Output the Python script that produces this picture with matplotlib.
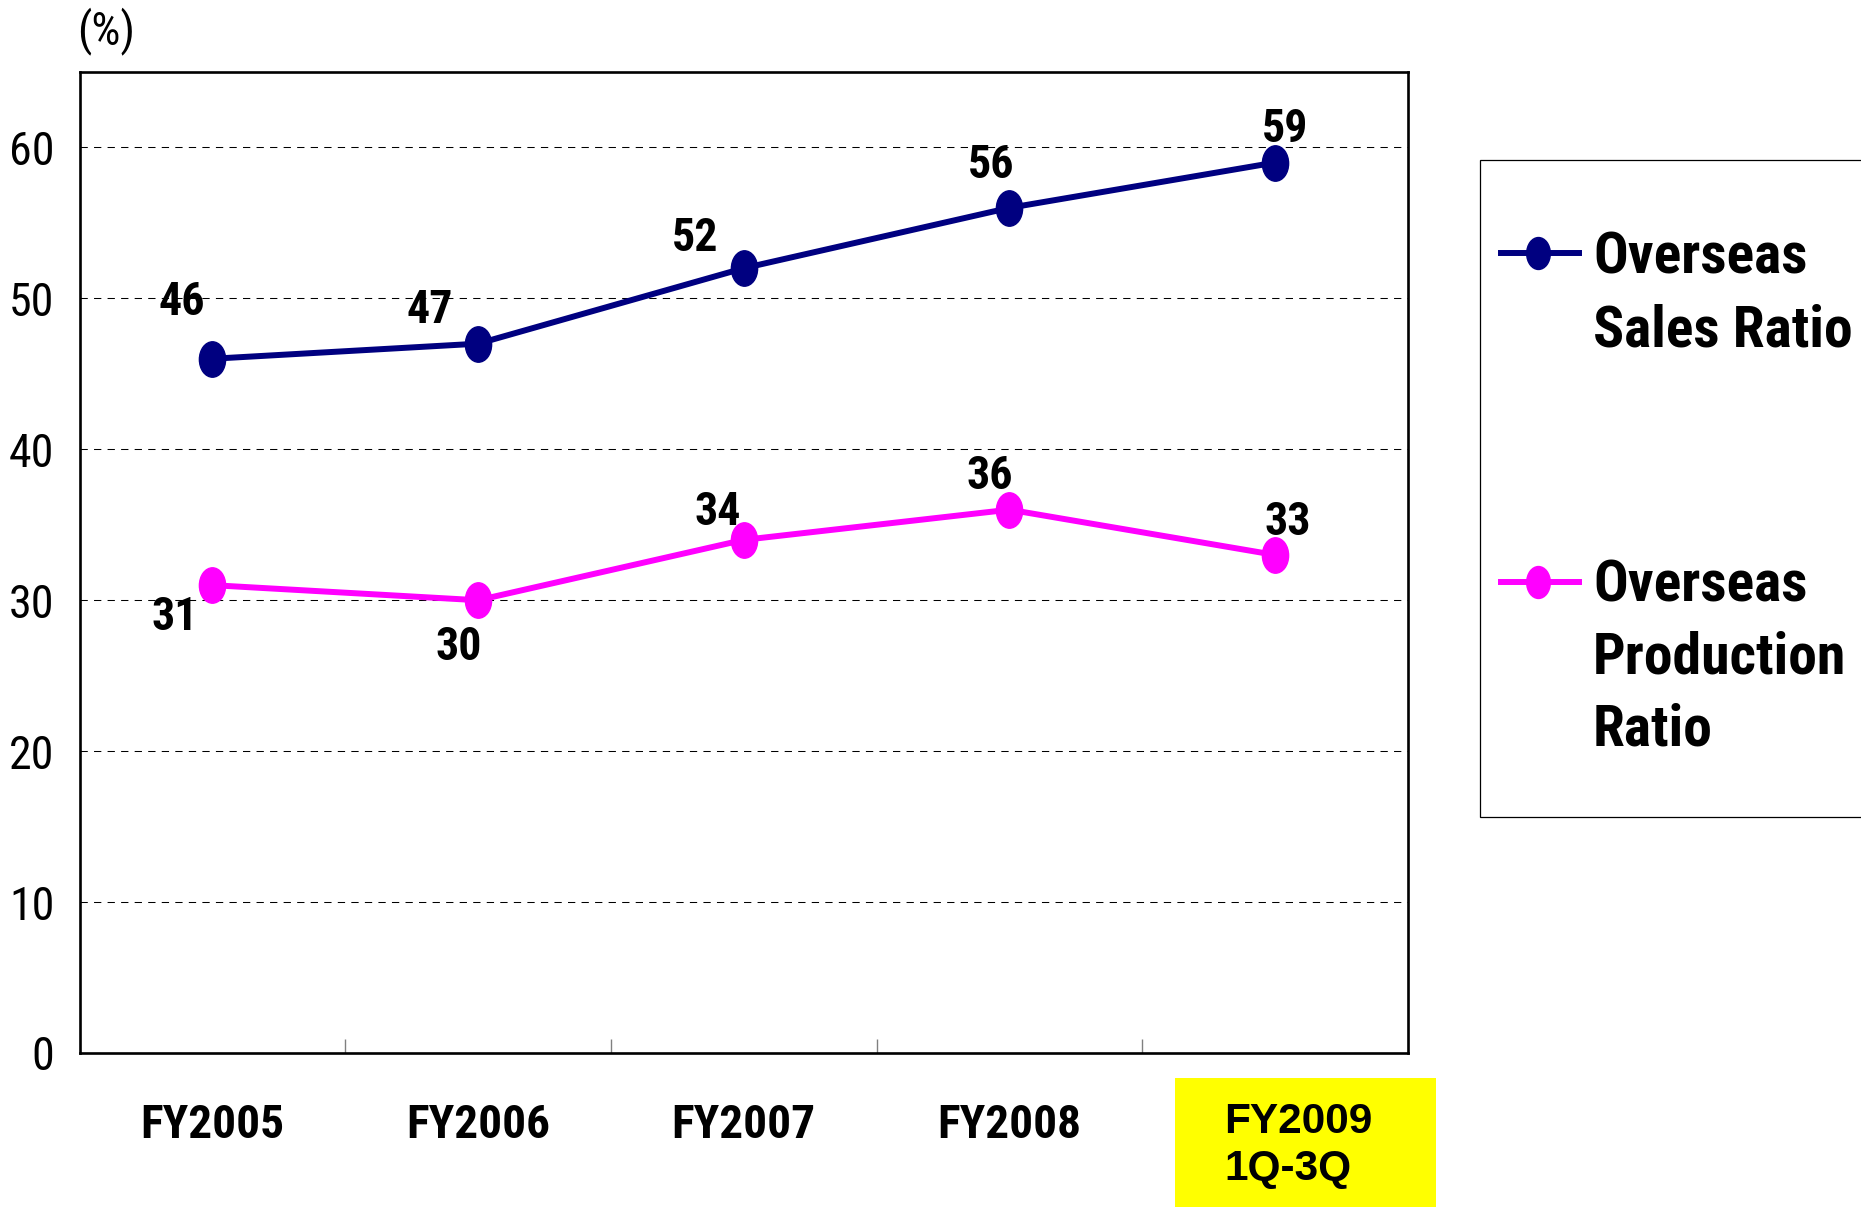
import matplotlib
matplotlib.use("Agg")
import matplotlib.pyplot as plt
import numpy as np
from matplotlib import font_manager as fm
from matplotlib.path import Path
from matplotlib.lines import Line2D
from matplotlib.patches import Rectangle

# ---------------- data ----------------
categories = ["FY2005", "FY2006", "FY2007", "FY2008", "FY2009\n1Q-3Q"]
sales_ratio = [46, 47, 52, 56, 59]
production_ratio = [31, 30, 34, 36, 33]
series_names = ["Overseas\nSales Ratio", "Overseas\nProduction\nRatio"]
y_ticks = [0, 10, 20, 30, 40, 50, 60]
y_unit = "(%)"

# ---------------- style ----------------
SALES_COLOR = "#000080"
PROD_COLOR = "#FF00FF"

# pick a narrow (condensed) sans font if one is installed
_entries = fm.fontManager.ttflist
_names = {f.name for f in _entries}
_stretch_cond = {"condensed", "semi-condensed", "extra-condensed", "ultra-condensed", 75, 87.5, 62.5, 50}
NARROW_FAMILY = None
NARROW_STRETCH = "normal"
SCALE = 1.0
for cand in ["Liberation Sans Narrow", "Arial Narrow", "Roboto Condensed", "Noto Sans Condensed",
             "Open Sans Condensed", "DejaVu Sans Condensed"]:
    if cand in _names:
        NARROW_FAMILY = cand
        break
if NARROW_FAMILY is None:
    for fam in ["Noto Sans", "Roboto", "Open Sans"]:
        if any(f.name == fam and f.stretch in _stretch_cond for f in _entries):
            NARROW_FAMILY = fam
            NARROW_STRETCH = "condensed"
            break
if NARROW_FAMILY is None:
    NARROW_FAMILY = "Liberation Sans"
    SCALE = 0.86
elif NARROW_FAMILY == "DejaVu Sans Condensed":
    SCALE = 0.86

NARROW = [NARROW_FAMILY, "Liberation Sans", "DejaVu Sans"]
WIDE = ["Liberation Sans", "DejaVu Sans"]
NK = dict(family=NARROW, fontstretch=NARROW_STRETCH)

# data-label offsets in points (dx, dy)
sales_offsets = [(-22, 44), (-35, 27), (-35, 24.5), (-13, 34), (7, 27)]
prod_offsets = [(-27, -20), (-14, -31), (-19, 23), (-14, 27), (9, 27)]

W, H = 1861, 1207
fig = plt.figure(figsize=(W / 100, H / 100), dpi=100)
fig.patch.set_facecolor("white")


def fx(px):
    return px / W


def fy(py):
    return 1 - py / H


ax = fig.add_axes([fx(79.5), fy(1053), (1408 - 79.5) / W, (1053 - 72) / H])

uc = Path.unit_circle()
ellipse = Path(uc.vertices * np.array([1.0, 1.35]), uc.codes)

x = np.arange(len(categories))
line_kw = dict(lw=4.3, marker=ellipse, ms=25.5, zorder=3, clip_on=False)
ax.plot(x, sales_ratio, color=SALES_COLOR, mfc=SALES_COLOR, mec=SALES_COLOR, **line_kw)
ax.plot(x, production_ratio, color=PROD_COLOR, mfc=PROD_COLOR, mec=PROD_COLOR, **line_kw)

for vals, offs in ((sales_ratio, sales_offsets), (production_ratio, prod_offsets)):
    for i, (v, off) in enumerate(zip(vals, offs)):
        ax.annotate(str(v), (i, v), xytext=(off[0], off[1] - 3), textcoords="offset points",
                    ha="center", va="center", fontsize=33 * SCALE, fontweight="bold",
                    zorder=4, **NK)

ax.set_xlim(-0.5, len(categories) - 0.5)
ax.set_ylim(0, 65)

# y axis
ax.set_yticks(y_ticks)
ax.set_yticklabels([str(t) for t in y_ticks], fontsize=33 * SCALE, **NK)
ax.tick_params(axis="y", length=0, pad=18)
ax.yaxis.grid(True, color="black", lw=0.75, linestyle=(0, (7, 6)))
ax.set_axisbelow(True)

# x axis: boundary ticks (major, inside) and category labels (minor)
ax.set_xticks(np.arange(0.5, len(categories) - 1, 1))
ax.set_xticklabels([])
ax.tick_params(axis="x", which="major", direction="in", length=10, width=1, color="#808080")
ax.set_xticks(x, minor=True)
ax.set_xticklabels(categories[:-1] + [""], minor=True, fontsize=34 * SCALE, fontweight="bold", **NK)
ax.tick_params(axis="x", which="minor", length=0, pad=36)

# last category label on yellow background
fig.add_artist(Rectangle((fx(1175), fy(1207)), (1436 - 1175) / W, (1207 - 1078) / H,
                         transform=fig.transFigure, facecolor="#FFFF00", edgecolor="none", zorder=-1))
ax.annotate(categories[-1], xy=(len(categories) - 1, 0), xycoords=("data", "axes fraction"),
            xytext=(-51 / 1.389, -35), textcoords="offset points", ha="left", va="top",
            fontsize=30.5, fontweight="bold", family=WIDE, linespacing=1.25,
            multialignment="left", annotation_clip=False)

for s in ax.spines.values():
    s.set_linewidth(1.9)
    s.set_color("black")

# unit label
fig.text(fx(106), fy(31), y_unit, ha="center", va="center", fontsize=33 * SCALE, **NK)

# ---------------- legend ----------------
fig.add_artist(Rectangle((fx(1480), fy(817)), 1.0, (817 - 160) / H, transform=fig.transFigure,
                         facecolor="white", edgecolor="black", lw=0.9, clip_on=False))
for name, color, yc, ytop in ((series_names[0], SALES_COLOR, 253, 231),
                              (series_names[1], PROD_COLOR, 582, 558)):
    fig.add_artist(Line2D([fx(1501), fx(1579)], [fy(yc), fy(yc)], transform=fig.transFigure,
                          color=color, lw=4.3))
    fig.add_artist(Line2D([fx(1538)], [fy(yc)], transform=fig.transFigure, color=color,
                          marker=ellipse, ms=23, mfc=color, mec=color, lw=0))
    fig.text(fx(1593), fy(ytop), name, ha="left", va="top", fontsize=41.5 * SCALE, fontweight="bold",
             linespacing=1.4, **NK)

fig.savefig("out.png", dpi=100, facecolor="white")
